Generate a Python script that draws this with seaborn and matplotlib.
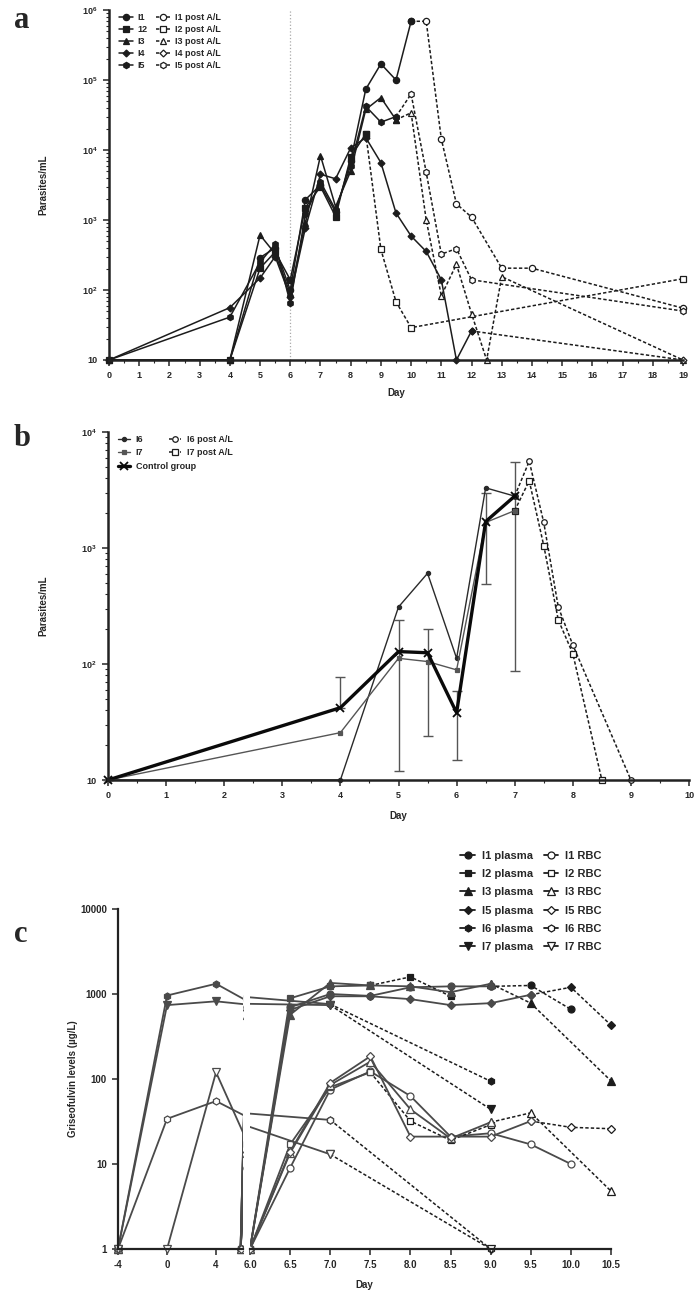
import matplotlib
matplotlib.use("Agg")
import matplotlib.pyplot as plt
import matplotlib.ticker as mticker
from matplotlib.patches import Rectangle
import seaborn as sns
import numpy as np

sns.set_style("ticks")
plt.rcParams['font.family'] = ['Liberation Sans', 'DejaVu Sans']
plt.rcParams['font.weight'] = 'bold'
plt.rcParams['axes.labelweight'] = 'bold'
plt.rcParams['mathtext.fontset'] = 'custom'
plt.rcParams['mathtext.rm'] = 'Liberation Sans:bold'
plt.rcParams['mathtext.default'] = 'rm'

# ---------------- panel a data (parasites/mL) ----------------
a_i1_days = [0, 4, 5, 5.5, 6, 6.5, 7, 7.5, 8, 8.5, 9, 9.5, 10]
a_i1_vals = [10, 10, 290, 400, 100, 1950, 3160, 1300, 7000, 74000, 170000, 100000, 690000]
a_i1_post_days = [10, 10.5, 11, 11.5, 12, 13, 14, 19]
a_i1_post_vals = [690000, 690000, 14400, 1700, 1100, 205, 205, 55]

a_i2_days = [0, 4, 5, 5.5, 6, 6.5, 7, 7.5, 8, 8.5]
a_i2_vals = [10, 10, 205, 350, 140, 1500, 3000, 1120, 8000, 17000]
a_i2_post_days = [8.5, 9, 9.5, 10, 19]
a_i2_post_vals = [17000, 380, 68, 29, 145]

a_i3_days = [0, 4, 5, 5.5, 6, 6.5, 7, 7.5, 8, 8.5, 9, 9.5]
a_i3_vals = [10, 10, 610, 330, 90, 900, 8300, 1550, 5000, 38000, 56000, 27000]
a_i3_post_days = [9.5, 10, 10.5, 11, 11.5, 12, 12.5, 13, 19]
a_i3_post_vals = [27000, 34000, 1000, 83, 233, 46, 10, 155, 10]

a_i4_days = [0, 4, 5, 5.5, 6, 6.5, 7, 7.5, 8, 8.5, 9, 9.5, 10, 10.5, 11, 11.5, 12]
a_i4_vals = [10, 56, 148, 300, 80, 770, 4500, 3880, 10700, 15000, 6600, 1260, 590, 355, 140, 10, 26]
a_i4_post_days = [12, 19]
a_i4_post_vals = [26, 10]

a_i5_days = [0, 4, 5, 5.5, 6, 6.5, 7, 7.5, 8, 8.5, 9, 9.5]
a_i5_vals = [10, 41, 250, 450, 65, 1200, 3500, 1400, 6000, 42000, 25000, 30000]
a_i5_post_days = [9.5, 10, 10.5, 11, 11.5, 12, 19]
a_i5_post_vals = [30000, 63000, 4800, 325, 390, 140, 50]

# ---------------- panel b data ----------------
b_i6_days = [0, 4, 5, 5.5, 6, 6.5, 7]
b_i6_vals = [10, 10, 310, 605, 112, 3300, 2800]
b_i6_post_days = [7, 7.25, 7.5, 7.75, 8, 9]
b_i6_post_vals = [2800, 5600, 1660, 310, 146, 10]

b_i7_days = [0, 4, 5, 5.5, 6, 6.5, 7]
b_i7_vals = [10, 25.6, 112, 105, 89, 1660, 2100]
b_i7_post_days = [7, 7.25, 7.5, 7.75, 8, 8.5]
b_i7_post_vals = [2100, 3800, 1050, 240, 123, 10]

ctrl_days = [0, 4, 5, 5.5, 6, 6.5, 7]
ctrl_mean = [10, 42, 128, 125, 38, 1690, 2800]
ctrl_upper = [10, 78, 240, 200, 58, 2960, 5500]
ctrl_lower = [10, 42, 12, 24, 15, 490, 87]

# ---------------- panel c data (griseofulvin, ug/L) ----------------
c_i1p_days = [-4, 6.0, 6.5, 7.0, 7.5, 8.0, 8.5, 9.0]
c_i1p_vals = [1, 1, 700, 1000, 950, 1200, 1230, 1230]
c_i1p_post_days = [9.0, 9.5, 10.0]
c_i1p_post_vals = [1230, 1260, 660]

c_i2p_days = [-4, 6.0, 6.5, 7.0, 7.5]
c_i2p_vals = [1, 1, 890, 1230, 1260]
c_i2p_post_days = [7.5, 8.0, 8.5]
c_i2p_post_vals = [1260, 1590, 940]

c_i3p_days = [-4, 6.0, 6.5, 7.0, 7.5, 8.0, 8.5, 9.0]
c_i3p_vals = [1, 1, 570, 1350, 1260, 1230, 1050, 1320]
c_i3p_post_days = [9.0, 9.5, 10.5]
c_i3p_post_vals = [1320, 780, 95]

c_i5p_days = [-4, 6.0, 6.5, 7.0, 7.5, 8.0, 8.5, 9.0, 9.5]
c_i5p_vals = [1, 1, 650, 940, 940, 870, 740, 780, 980]
c_i5p_post_days = [9.5, 10.0, 10.5]
c_i5p_post_vals = [980, 1200, 430]

c_i6p_days = [-4, 0, 4, 7.0]
c_i6p_vals = [1, 960, 1320, 760]
c_i6p_post_days = [7.0, 9.0]
c_i6p_post_vals = [760, 94]

c_i7p_days = [-4, 0, 4, 7.0]
c_i7p_vals = [1, 740, 820, 740]
c_i7p_post_days = [7.0, 9.0]
c_i7p_post_vals = [740, 44]

c_i1r_days = [-4, 6.0, 6.5, 7.0, 7.5, 8.0, 8.5, 9.0, 9.5, 10.0]
c_i1r_vals = [1, 1, 9, 75, 123, 63, 21, 23, 17, 10]

c_i2r_days = [-4, 6.0, 6.5, 7.0, 7.5]
c_i2r_vals = [1, 1, 17, 80, 120]
c_i2r_post_days = [7.5, 8.0, 8.5, 9.0]
c_i2r_post_vals = [120, 32, 19, 29]

c_i3r_days = [-4, 6.0, 6.5, 7.0, 7.5, 8.0, 8.5, 9.0]
c_i3r_vals = [1, 1, 13.5, 85, 160, 44, 20, 31]
c_i3r_post_days = [9.0, 9.5, 10.5]
c_i3r_post_vals = [31, 40, 4.8]

c_i5r_days = [-4, 6.0, 6.5, 7.0, 7.5, 8.0, 8.5, 9.0, 9.5]
c_i5r_vals = [1, 1, 14, 90, 185, 21, 21, 21, 32]
c_i5r_post_days = [9.5, 10.0, 10.5]
c_i5r_post_vals = [32, 27, 26]

c_i6r_days = [-4, 0, 4, 7.0]
c_i6r_vals = [1, 34, 55, 33]
c_i6r_post_days = [7.0, 9.0]
c_i6r_post_vals = [33, 1]

c_i7r_days = [-4, 0, 4, 7.0]
c_i7r_vals = [1, 1, 120, 13]
c_i7r_post_days = [7.0, 9.0]
c_i7r_post_vals = [13, 1]

INK = '#1c1c1c'
GREY = '#4a4a4a'
DOT = (0, (2.2, 1.4))


def trace(ax, days, vals, marker, hollow=False, dashed=False, ms=4.5, lw=1.1,
          color=INK, mew=0.9, clip=False):
    sns.lineplot(x=days, y=vals, ax=ax, marker=marker, markersize=ms, color=color,
                 linewidth=lw, linestyle=DOT if dashed else '-',
                 markerfacecolor='white' if hollow else color,
                 markeredgecolor=color, markeredgewidth=mew,
                 errorbar=None, estimator=None, sort=False, clip_on=clip)
    return ax.lines[-1]


def pow_fmt(v, _):
    if v <= 10:
        return '10'
    return '$10^{%d}$' % int(round(np.log10(v)))


def style_log_axis(ax, top):
    ax.set_yscale('log')
    ax.set_ylim(10, top)
    ax.yaxis.set_major_locator(mticker.LogLocator(base=10))
    ax.yaxis.set_minor_locator(mticker.LogLocator(base=10, subs=np.arange(2, 10)))
    ax.yaxis.set_major_formatter(mticker.FuncFormatter(pow_fmt))
    ax.yaxis.set_minor_formatter(mticker.NullFormatter())
    ax.xaxis.set_major_locator(mticker.MultipleLocator(1))
    ax.xaxis.set_minor_locator(mticker.MultipleLocator(0.5))
    ax.tick_params(which='major', direction='out', length=4, width=1.1, labelsize=6.5, pad=4)
    ax.tick_params(which='minor', direction='out', length=2, width=0.8)
    for s in ['top', 'right']:
        ax.spines[s].set_visible(False)
    for s in ['left', 'bottom']:
        ax.spines[s].set_linewidth(1.8)
        ax.spines[s].set_color('#222')


W, H = 700, 1297
fig = plt.figure(figsize=(7, 12.97), dpi=100)

# ================= panel a =================
ax_a = fig.add_axes([109 / W, 1 - 360 / H, 574 / W, 350 / H])
ax_a.axvline(6, color='#aaaaaa', ls=':', lw=0.9, zorder=0)
markers_a = ['o', 's', '^', 'D', 'h']
sizes_a = [4.5, 4.5, 5, 3.5, 4.5]
solid_a = [(a_i1_days, a_i1_vals), (a_i2_days, a_i2_vals), (a_i3_days, a_i3_vals),
           (a_i4_days, a_i4_vals), (a_i5_days, a_i5_vals)]
post_a = [(a_i1_post_days, a_i1_post_vals), (a_i2_post_days, a_i2_post_vals),
          (a_i3_post_days, a_i3_post_vals), (a_i4_post_days, a_i4_post_vals),
          (a_i5_post_days, a_i5_post_vals)]
h_pre, h_post = [], []
for (d, v), m, ms in zip(post_a, markers_a, sizes_a):
    h_post.append(trace(ax_a, d, v, m, hollow=True, dashed=True, ms=ms))
for (d, v), m, ms in zip(solid_a, markers_a, sizes_a):
    h_pre.append(trace(ax_a, d, v, m, ms=ms))
ax_a.set_xlim(0, 19)
style_log_axis(ax_a, 1e6)
ax_a.set_xlabel('Day', fontsize=7, labelpad=6)
ax_a.set_ylabel('Parasites/mL', fontsize=7)
ax_a.yaxis.set_label_coords(-0.105, 0.5)
labels_a = ['I1', '12', 'I3', 'I4', 'I5',
            'I1 post A/L', 'I2 post A/L', 'I3 post A/L', 'I4 post A/L', 'I5 post A/L']
ax_a.legend(h_pre + h_post, labels_a, ncol=2, loc='upper left', bbox_to_anchor=(0.012, 1.0),
            frameon=False, fontsize=6.5, handlelength=1.6, handletextpad=0.5,
            columnspacing=0.9, labelspacing=0.35, borderaxespad=0.2, borderpad=0.1)

# ================= panel b =================
ax_b = fig.add_axes([108 / W, 1 - 780 / H, 581 / W, 348 / H])
hb_i6p = trace(ax_b, b_i6_post_days, b_i6_post_vals, 'o', hollow=True, dashed=True, ms=4)
hb_i7p = trace(ax_b, b_i7_post_days, b_i7_post_vals, 's', hollow=True, dashed=True, ms=4)
yerr = [np.array(ctrl_mean) - np.array(ctrl_lower), np.array(ctrl_upper) - np.array(ctrl_mean)]
ax_b.errorbar(ctrl_days, ctrl_mean, yerr=yerr, fmt='none', ecolor='#555555',
              elinewidth=1.0, capsize=3.5, capthick=1.0, clip_on=False, zorder=1)
hb_i6 = trace(ax_b, b_i6_days, b_i6_vals, 'o', ms=3, lw=1.0, color='#2a2a2a')
hb_i7 = trace(ax_b, b_i7_days, b_i7_vals, 's', ms=3.5, lw=1.0, color='#555555')
hb_ctrl = trace(ax_b, ctrl_days, ctrl_mean, 'x', ms=6, lw=2.4, color='#0a0a0a', mew=1.3)
ax_b.set_xlim(0, 10)
style_log_axis(ax_b, 1e4)
ax_b.set_xlabel('Day', fontsize=7, labelpad=8)
ax_b.set_ylabel('Parasites/mL', fontsize=7)
ax_b.yaxis.set_label_coords(-0.103, 0.5)
leg_b1 = ax_b.legend([hb_i6, hb_i7, hb_ctrl], ['I6', 'I7', 'Control group'], loc='upper left',
                     bbox_to_anchor=(0.012, 1.0), frameon=False, fontsize=6.5,
                     handlelength=1.4, handletextpad=0.6, labelspacing=0.5,
                     borderaxespad=0.2, borderpad=0.1)
ax_b.add_artist(leg_b1)
ax_b.legend([hb_i6p, hb_i7p], ['I6 post A/L', 'I7 post A/L'], loc='upper left',
            bbox_to_anchor=(0.1, 1.0), frameon=False, fontsize=6.5,
            handlelength=1.4, handletextpad=0.6, labelspacing=0.5,
            borderaxespad=0.2, borderpad=0.1)

# ================= panel c (broken x axis) =================
c_bottom = 1 - 1249 / H
c_height = 340 / H
ax_cl = fig.add_axes([118 / W, c_bottom, 125 / W, c_height])
ax_cr = fig.add_axes([250 / W, c_bottom, 361 / W, c_height], sharey=ax_cl)

plasma = [
    ('o', c_i1p_days, c_i1p_vals, c_i1p_post_days, c_i1p_post_vals),
    ('s', c_i2p_days, c_i2p_vals, c_i2p_post_days, c_i2p_post_vals),
    ('^', c_i3p_days, c_i3p_vals, c_i3p_post_days, c_i3p_post_vals),
    ('D', c_i5p_days, c_i5p_vals, c_i5p_post_days, c_i5p_post_vals),
    ('h', c_i6p_days, c_i6p_vals, c_i6p_post_days, c_i6p_post_vals),
    ('v', c_i7p_days, c_i7p_vals, c_i7p_post_days, c_i7p_post_vals),
]
rbc = [
    ('o', c_i1r_days, c_i1r_vals, None, None),
    ('s', c_i2r_days, c_i2r_vals, c_i2r_post_days, c_i2r_post_vals),
    ('^', c_i3r_days, c_i3r_vals, c_i3r_post_days, c_i3r_post_vals),
    ('D', c_i5r_days, c_i5r_vals, c_i5r_post_days, c_i5r_post_vals),
    ('h', c_i6r_days, c_i6r_vals, c_i6r_post_days, c_i6r_post_vals),
    ('v', c_i7r_days, c_i7r_vals, c_i7r_post_days, c_i7r_post_vals),
]
size_c = {'o': 5, 's': 5, '^': 5.5, 'D': 4, 'h': 5, 'v': 5.5}

h_plasma, h_rbc = [], []
for ax in (ax_cl, ax_cr):
    for group, hollow in ((plasma, False), (rbc, True)):
        for m, d, v, pd_, pv in group:
            if pd_ is not None:
                trace(ax, pd_, pv, m, hollow=hollow, dashed=True, ms=size_c[m], color=INK)
            ln = trace(ax, d, v, m, hollow=hollow, ms=size_c[m], lw=1.3, color=GREY)
            if ax is ax_cr:
                (h_rbc if hollow else h_plasma).append(ln)

# clip each half of the broken axis horizontally, but leave room for markers at y = 1
for ax, rect in ((ax_cl, (-0.2, -0.1, 1.2, 1.2)), (ax_cr, (0.0, -0.1, 1.1, 1.2))):
    for ln in ax.lines:
        ln.set_clip_on(True)
        ln.set_clip_path(Rectangle(rect[:2], rect[2], rect[3], transform=ax.transAxes))

ax_cl.set_yscale('log')
ax_cl.set_ylim(1, 10000)
ax_cl.yaxis.set_major_locator(mticker.FixedLocator([1, 10, 100, 1000, 10000]))
ax_cl.yaxis.set_minor_locator(mticker.NullLocator())
ax_cl.yaxis.set_major_formatter(mticker.FuncFormatter(lambda v, _: f'{v:g}'))
ax_cl.set_xlim(-4, 6.2)
ax_cl.set_xticks([-4, 0, 4])
ax_cl.set_xticklabels(['-4', '0', '4'])
ax_cr.set_xlim(6.0, 10.5)
ax_cr.set_xticks(np.arange(6.0, 10.51, 0.5))
ax_cr.xaxis.set_major_formatter(mticker.FormatStrFormatter('%.1f'))
for ax in (ax_cl, ax_cr):
    ax.tick_params(which='major', direction='out', length=4, width=1.1, labelsize=7, pad=4)
    for s in ['top', 'right']:
        ax.spines[s].set_visible(False)
    for s in ['left', 'bottom']:
        ax.spines[s].set_linewidth(1.6)
        ax.spines[s].set_color('#222')
ax_cr.spines['left'].set_visible(False)
ax_cr.tick_params(axis='y', left=False, labelleft=False)
ax_cl.set_ylabel('Griseofulvin levels (µg/L)', fontsize=7)
ax_cl.yaxis.set_label_coords(-0.32, 0.5)
fig.text(364 / W, 1 - 1285 / H, 'Day', fontsize=7, ha='center', va='center')

labels_c = ['I1 plasma', 'I2 plasma', 'I3 plasma', 'I5 plasma', 'I6 plasma', 'I7 plasma',
            'I1 RBC', 'I2 RBC', 'I3 RBC', 'I5 RBC', 'I6 RBC', 'I7 RBC']
leg_c = ax_cr.legend(h_plasma + h_rbc, labels_c, ncol=2, loc='upper left',
                     bbox_to_anchor=(0.58, 1.175), frameon=False, fontsize=8,
                     handlelength=1.3, handletextpad=0.6, columnspacing=1.0,
                     labelspacing=0.75, borderaxespad=0, borderpad=0.1)
for i, lh in enumerate(leg_c.legend_handles):
    lh.set_color(INK)
    lh.set_markeredgecolor(INK)
    lh.set_markerfacecolor(INK if i < 6 else 'white')

# panel letters
for txt, y in (('a', 20), ('b', 438), ('c', 935)):
    fig.text(14 / W, 1 - y / H, txt, family=['Liberation Serif', 'DejaVu Serif'],
             fontsize=22, fontweight='bold', va='center', ha='left')

fig.savefig('out.png', dpi=100)
